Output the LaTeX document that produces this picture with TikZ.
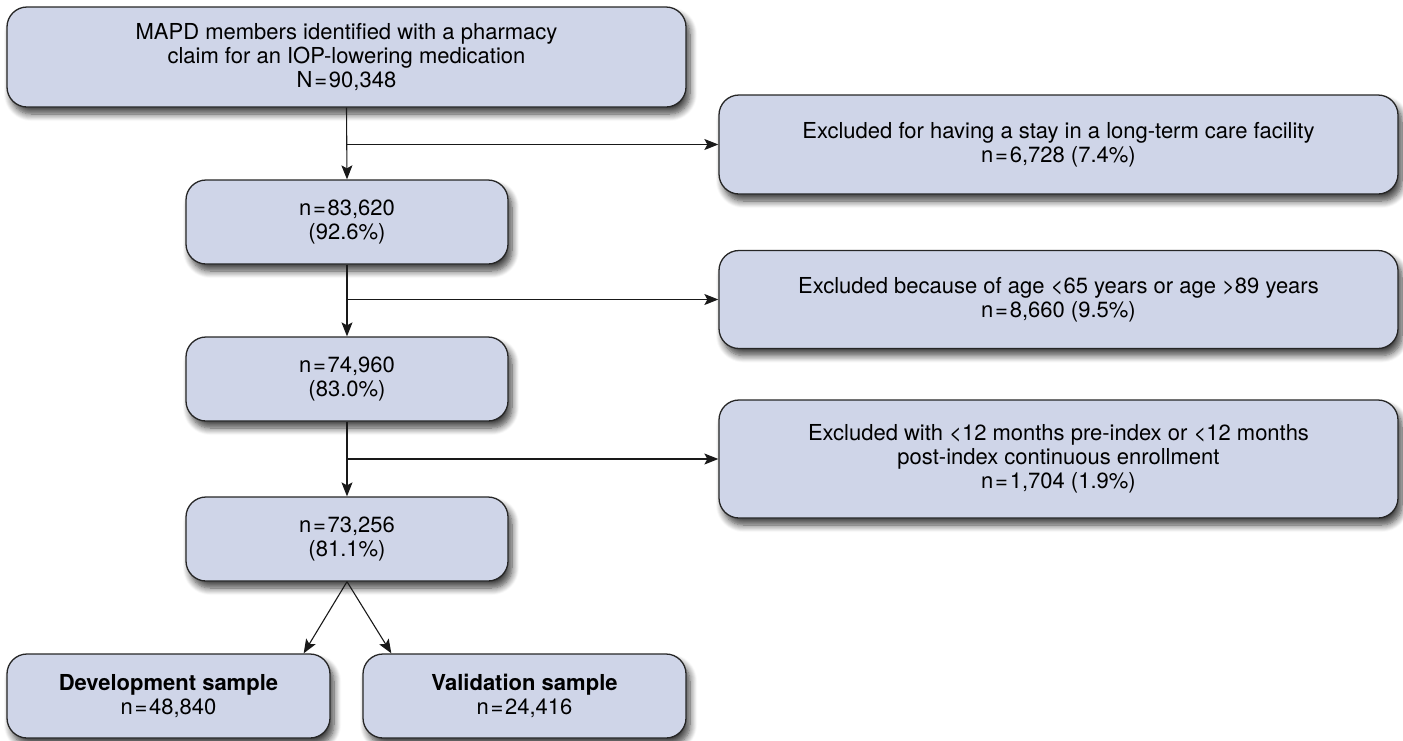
\documentclass[tikz,border=0pt]{standalone}
\usepackage{fontspec}
\setmainfont{TeX Gyre Heros}
\usetikzlibrary{arrows.meta,shadows.blur}
\definecolor{boxfill}{RGB}{207,213,232}
\newcommand{\eqs}{\kern.08em=\kern.08em}
\begin{document}
\begin{tikzpicture}[x=1pt,y=-1pt,line join=round,>={Stealth[length=14pt,width=11pt,inset=3pt]},
	font=\fontsize{22}{24}\selectfont,
	flowbox/.style={draw=black!85,line width=1.3pt,fill=boxfill,rounded corners=20pt,align=center,
		inner sep=0pt,blur shadow={shadow xshift=4pt,shadow yshift=-7pt,shadow blur radius=7pt,shadow blur steps=8,shadow opacity=75}},
	conn/.style={line width=1.1pt,black!90}]
			\useasboundingbox (0,0) rectangle (1403,740);
			\def \colx{347};
			\def \exclx{1058.5};
			% main column
			\node[flowbox,minimum width=679pt,minimum height=100pt] (start) at (346.5,57) {MAPD members identified with a pharmacy\\claim for an IOP-lowering medication\\N\eqs90,348};
			\node[flowbox,minimum width=322pt,minimum height=84pt] (ltc) at (\colx,222) {n\eqs83,620\\(92.6\%)};
			\node[flowbox,minimum width=322pt,minimum height=84pt] (age) at (\colx,379) {n\eqs74,960\\(83.0\%)};
			\node[flowbox,minimum width=322pt,minimum height=84pt] (enrl) at (\colx,539) {n\eqs73,256\\(81.1\%)};
			\node[flowbox,minimum width=323pt,minimum height=84pt] (dev) at (168.5,696) {\textbf{Development sample}\\n\eqs48,840};
			\node[flowbox,minimum width=323pt,minimum height=84pt] (val) at (524.5,696) {\textbf{Validation sample}\\n\eqs24,416};
			% exclusions
			\node[flowbox,minimum width=679pt,minimum height=99pt] (exltc) at (\exclx,144.5) {Excluded for having a stay in a long-term care facility\\n\eqs6,728 (7.4\%)};
			\node[flowbox,minimum width=679pt,minimum height=98pt] (exage) at (\exclx,299.5) {Excluded because of age {<}65 years or age {>}89 years\\n\eqs8,660 (9.5\%)};
			\node[flowbox,minimum width=679pt,minimum height=118pt] (exenrl) at (\exclx,459) {Excluded with {<}12 months pre-index or {<}12 months\\post-index continuous enrollment\\n\eqs1,704 (1.9\%)};
			\coordinate (b1) at (start.south |- exltc.west);
			\coordinate (b2) at (ltc.south |- exage.west);
			\coordinate (b3) at (age.south |- exenrl.west);
			\draw[conn,->] (start.south) -- (ltc.north);
			\draw[conn,->] (ltc.south) -- (age.north);
			\draw[conn,->] (age.south) -- (enrl.north);
			\draw[conn,->] (b1) -- (exltc.west);
			\draw[conn,->] (b2) -- (exage.west);
			\draw[conn,->] (b3) -- (exenrl.west);
			\draw[conn,->] (enrl.south) -- ([xshift=-27pt]dev.north east);
			\draw[conn,->] (enrl.south) -- ([xshift=29pt]val.north west);
			\end{tikzpicture}
\end{document}
